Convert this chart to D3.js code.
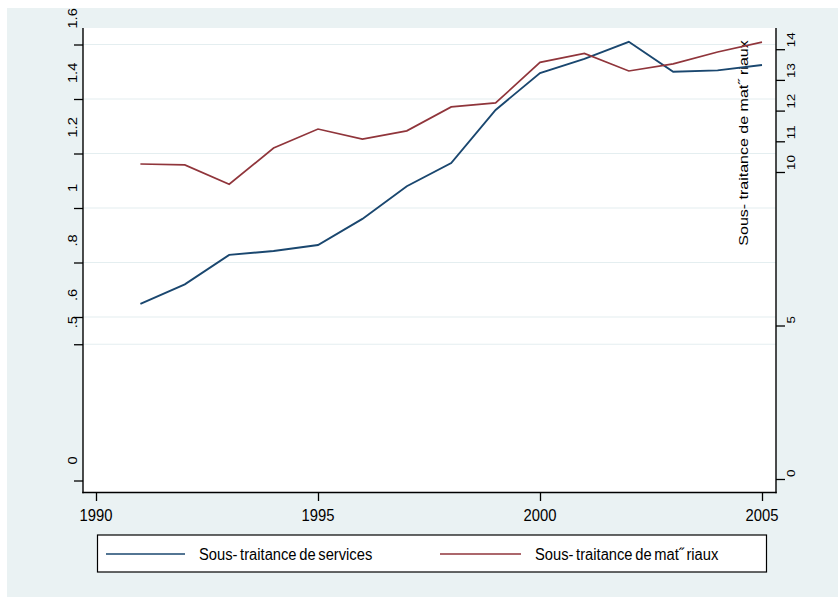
<!DOCTYPE html>
<html>
<head>
<meta charset="utf-8">
<script src="https://cdn.jsdelivr.net/npm/d3@7"></script>
<style>
  html, body { margin: 0; padding: 0; background: #ffffff; }
  svg { display: block; }
  text { font-family: "Liberation Sans", Arial, sans-serif; fill: #000; }
</style>
</head>
<body>
<div id="chart"></div>
<script>
// Years of observation
const years = [1991, 1992, 1993, 1994, 1995, 1996, 1997, 1998, 1999, 2000, 2001, 2002, 2003, 2004, 2005];

// Sous-traitance de services (left axis)
const services = [0.648, 0.720, 0.828, 0.842, 0.864, 0.960, 1.080, 1.165, 1.360, 1.495, 1.547, 1.610, 1.500, 1.505, 1.525];

// Sous-traitance de matériaux (right axis)
const materiaux = [10.26, 10.23, 9.60, 10.78, 11.40, 11.07, 11.34, 12.12, 12.25, 13.57, 13.86, 13.29, 13.52, 13.91, 14.23];

// Axis ticks and labels
const xTicks = [1990, 1995, 2000, 2005];
const leftTicks = [0, 0.5, 0.6, 0.8, 1, 1.2, 1.4, 1.6];
const leftLabels = ["0", ".5", ".6", ".8", "1", "1.2", "1.4", "1.6"];
const leftGrid = [0.5, 0.6, 0.8, 1, 1.2, 1.4, 1.6];
const rightTicks = [0, 5, 10, 11, 12, 13, 14];
const rightLabels = ["0", "5", "10", "11", "12", "13", "14"];

const seriesNames = ["Sous- traitance de services", "Sous- traitance de mat\u02DD riaux"];
const rightTitle = "Sous- traitance de mat\u02DD riaux";

const W = 838, H = 597;
const colBlue = "#1a476f", colRed = "#90353b", bg = "#eaf2f3";

const svg = d3.select("#chart").append("svg").attr("width", W).attr("height", H);

// outer background
svg.append("rect").attr("x", 7).attr("y", 8).attr("width", W - 7).attr("height", H - 8).attr("fill", bg);

// plot region
const plot = { left: 83, right: 776, top: 28, bottom: 492.5 };
svg.append("rect").attr("x", plot.left).attr("y", plot.top)
  .attr("width", plot.right - plot.left).attr("height", plot.bottom - plot.top).attr("fill", "#fff");

const x = d3.scaleLinear().domain([1990, 2005]).range([96, 762]);
const yL = d3.scaleLinear().domain([0, 1.6]).range([480.5, 44.5]);
const yR = d3.scaleLinear().domain([0, 14]).range([479, 49.2]);

// grid lines
svg.append("g").selectAll("line").data(leftGrid).join("line")
  .attr("x1", plot.left).attr("x2", plot.right)
  .attr("y1", d => yL(d)).attr("y2", d => yL(d))
  .attr("stroke", "#e4eef0").attr("stroke-width", 1.2);

// left axis
const gL = svg.append("g").attr("transform", `translate(${plot.left},0)`)
  .call(d3.axisLeft(yL).tickValues(leftTicks).tickSize(9).tickFormat(""));
gL.select(".domain").remove();
gL.selectAll(".tick line").attr("stroke", "#000").attr("stroke-width", 1.3);
svg.append("line").attr("x1", plot.left).attr("x2", plot.left)
  .attr("y1", plot.top).attr("y2", plot.bottom + 0.7).attr("stroke", "#000").attr("stroke-width", 1.4);
svg.append("g").selectAll("text").data(leftTicks).join("text")
  .attr("transform", d => `translate(76.5,${yL(d) - 16}) scale(0.82,1) rotate(-90)`)
  .attr("text-anchor", "start").attr("font-size", 14.6)
  .text((d, i) => leftLabels[i]);

// right axis
const gR = svg.append("g").attr("transform", `translate(${plot.right},0)`)
  .call(d3.axisRight(yR).tickValues(rightTicks).tickSize(9).tickFormat(""));
gR.select(".domain").remove();
gR.selectAll(".tick line").attr("stroke", "#000").attr("stroke-width", 1.3);
svg.append("line").attr("x1", plot.right).attr("x2", plot.right)
  .attr("y1", plot.top).attr("y2", plot.bottom + 0.7).attr("stroke", "#000").attr("stroke-width", 1.4);
svg.append("g").selectAll("text").data(rightTicks).join("text")
  .attr("transform", d => `translate(794.5,${yR(d) - 2}) scale(0.85,1) rotate(-90)`)
  .attr("text-anchor", "start").attr("font-size", 13.4)
  .text((d, i) => rightLabels[i]);

// right axis title, drawn inside the plot area
svg.append("text")
  .attr("transform", `translate(748,143) scale(0.82,1) rotate(-90)`)
  .attr("text-anchor", "middle").attr("font-size", 16)
  .text(rightTitle);

// bottom axis
const gX = svg.append("g").attr("transform", `translate(0,${plot.bottom})`)
  .call(d3.axisBottom(x).tickValues(xTicks).tickSize(8.5).tickFormat(""));
gX.select(".domain").remove();
gX.selectAll(".tick line").attr("stroke", "#000").attr("stroke-width", 1.3);
svg.append("line").attr("x1", plot.left - 0.7).attr("x2", plot.right + 0.7)
  .attr("y1", plot.bottom).attr("y2", plot.bottom).attr("stroke", "#000").attr("stroke-width", 1.4);
svg.append("g").selectAll("text").data(xTicks).join("text")
  .attr("transform", d => `translate(${x(d)},520.5) scale(0.87,1)`)
  .attr("text-anchor", "middle").attr("font-size", 17)
  .text(d => d);

// series lines
const lineL = d3.line().x((d, i) => x(years[i])).y(d => yL(d));
const lineR = d3.line().x((d, i) => x(years[i])).y(d => yR(d));
svg.append("path").datum(services).attr("d", lineL)
  .attr("fill", "none").attr("stroke", colBlue).attr("stroke-width", 1.9).attr("stroke-linejoin", "miter");
svg.append("path").datum(materiaux).attr("d", lineR)
  .attr("fill", "none").attr("stroke", colRed).attr("stroke-width", 1.7).attr("stroke-linejoin", "miter");

// legend
const leg = svg.append("g");
leg.append("rect").attr("x", 97.5).attr("y", 535).attr("width", 669).attr("height", 37)
  .attr("fill", "#fff").attr("stroke", "#000").attr("stroke-width", 1.2);
const legItems = [
  { color: colBlue, x0: 106, x1: 185, tx: 199, name: seriesNames[0] },
  { color: colRed, x0: 440, x1: 521, tx: 535, name: seriesNames[1] }
];
legItems.forEach(it => {
  leg.append("line").attr("x1", it.x0).attr("x2", it.x1).attr("y1", 554).attr("y2", 554)
    .attr("stroke", it.color).attr("stroke-width", 1.7);
  leg.append("text").attr("transform", `translate(${it.tx},560) scale(0.92,1)`)
    .attr("font-size", 16).attr("word-spacing", -1.5).text(it.name);
});
</script>
</body>
</html>
